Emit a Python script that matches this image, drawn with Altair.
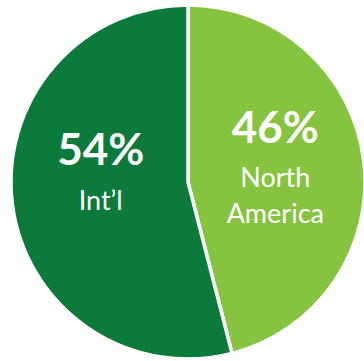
import altair as alt
import pandas as pd

regions = ["North America", "Int'l"]
shares = [46, 54]
pct_labels = ["46%", "54%"]
line1 = ["North", "Int\u2019l"]
line2 = ["America", ""]
colors = ["#86C440", "#0B7A3B"]

df = pd.DataFrame({
    "region": regions,
    "share": shares,
    "pct": pct_labels,
    "l1": line1,
    "l2": line2,
    "idx": list(range(len(regions))),
})

CX, CY = 188, 182
R = 177

base = alt.Chart(df).encode(
    theta=alt.Theta("share:Q", stack=True),
    order=alt.Order("idx:Q"),
    x=alt.value(CX),
    y=alt.value(CY),
)

arcs = base.mark_arc(radius=R, stroke="white", strokeWidth=3.5).encode(
    color=alt.Color("region:N", scale=alt.Scale(domain=regions, range=colors), legend=None)
)

txt_kw = dict(radius=88, color="white", font="Lato", align="center", baseline="alphabetic")
pct = base.mark_text(fontSize=44, fontWeight="bold", dy=-28, **txt_kw).encode(text="pct:N")
t1 = base.mark_text(fontSize=27, dy=16.5, **txt_kw).encode(text="l1:N")
t2 = base.mark_text(fontSize=27, dy=52, **txt_kw).encode(text="l2:N")

chart = alt.layer(arcs, pct, t1, t2).properties(
    width=364, height=361, padding=0, autosize=alt.AutoSizeParams(type="none")
).configure_view(stroke=None)

chart.save("out.html", embed_options={"renderer": "svg", "actions": False})
